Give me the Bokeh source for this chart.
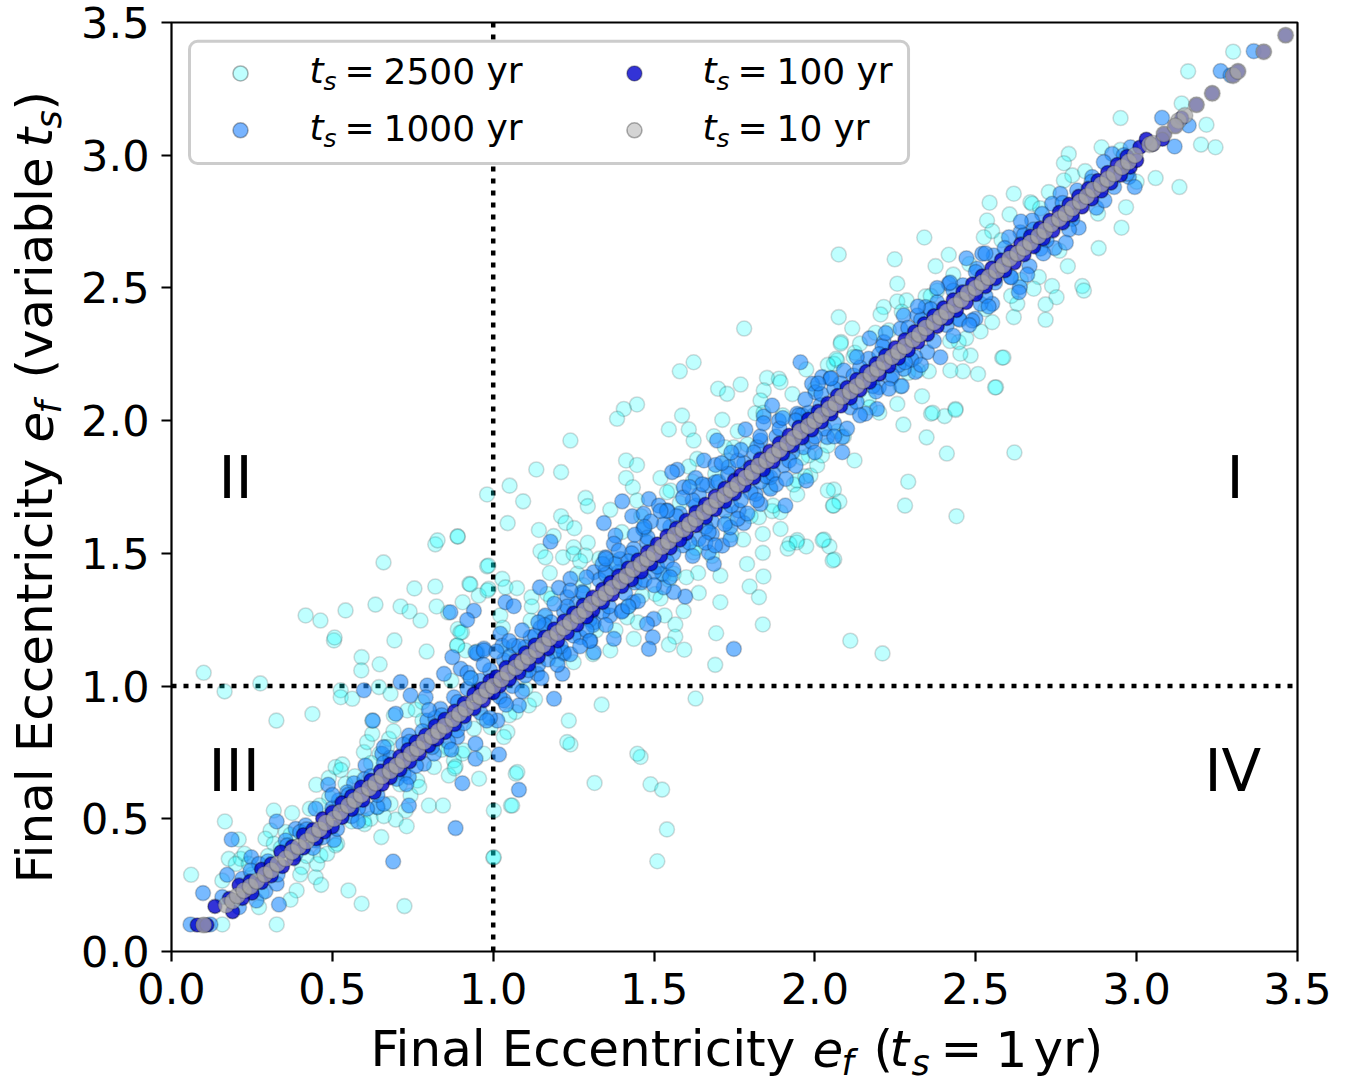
from bokeh.plotting import figure
from bokeh.layouts import row, column
from bokeh.models import Range1d, FixedTicker, Span, BoxAnnotation, Label, NumeralTickFormatter
from bokeh.embed import file_html
from bokeh.resources import INLINE
import math

ts_2500 = [
(2.074,2.626),(2.248,2.608),(2.34,2.69),(2.256,2.516),(2.375,2.582),(2.416,2.625),(2.543,2.821),(2.618,2.855),(2.605,2.777),(2.535,2.754),(2.551,2.714),(2.525,2.691),
(2.789,3.005),(2.774,2.97),(2.80,2.924),(2.774,2.905),(2.891,3.03),(2.727,2.861),(2.67,2.823),(2.675,2.817),(3.059,2.914),(3.133,2.88),(2.967,2.804),(2.953,2.727),(2.882,2.65),
(2.786,2.582),(2.696,2.541),(2.737,2.507),(2.831,2.507),(2.836,2.49),(2.68,2.497),(2.751,2.465),(2.717,2.438),(2.629,2.44),(2.618,2.39),(2.717,2.38),(2.551,2.371),(2.515,2.336),
(2.214,2.428),(2.204,2.4),(2.256,2.449),(2.285,2.453),(2.074,2.39),(2.116,2.348),(2.081,2.296),(2.124,2.256),(2.188,2.331),(2.344,2.468),(2.38,2.49),
(2.582,2.237),(2.484,2.245),(2.452,2.252),(2.447,2.296),(2.46,2.186),(2.507,2.176),(2.421,2.189),(2.354,2.186),(2.563,2.126),(2.333,2.092),(2.256,2.063),(2.437,2.044),(2.403,2.017),(2.361,2.026),
(2.266,2.13),(2.167,2.082),(2.069,2.227),(2.059,2.214),(3.30,3.39),(3.16,3.316),(3.14,3.195),(3.217,3.115),(3.20,3.04),(3.245,3.03),(2.95,3.14),
(1.623,2.22),(1.58,2.186),(1.447,2.061),(1.406,2.044),(1.385,2.007),(1.699,2.12),(1.727,2.101),(1.769,2.136),(1.587,2.019),(1.608,1.967),(1.623,1.925),(1.546,1.967),(1.712,2.003),
(1.24,1.925),(1.134,1.816),(1.211,1.806),(1.413,1.85),(1.447,1.833),(1.413,1.784),(1.434,1.749),(1.52,1.784),(1.551,1.737),(1.051,1.755),(1.093,1.696),(0.981,1.722),
(1.287,1.709),(1.294,1.678),(1.364,1.664),(1.447,1.699),(1.045,1.614),(1.211,1.64),(1.225,1.615),(1.252,1.595),(1.142,1.588),(1.188,1.565),(0.89,1.563),
(1.294,1.54),(1.147,1.508),(1.162,1.485),(1.217,1.485),(1.25,1.523),(1.25,1.498),(1.287,1.492),(1.176,1.426),(0.981,1.451),(0.926,1.385),(0.955,1.341),(0.905,1.316),(0.89,1.215),(0.903,1.203),
(1.028,1.404),(1.038,1.372),(1.074,1.369),(0.986,1.366),(1.022,1.266),(0.888,1.153),(1.119,1.335),(1.116,1.247),(1.168,1.347),(1.261,1.423),(2.08,2.29),(2.066,2.233),(1.973,2.193),
(1.851,2.161),(1.888,2.158),(1.893,2.145),(1.841,2.114),(1.831,2.076),(1.815,2.028),(1.686,1.941),(1.748,1.9),(1.727,1.85),(1.634,1.856),(1.608,1.827),(2.059,1.74),(2.056,1.68),(2.076,1.695),
(1.945,1.774),(1.934,1.759),(1.986,1.793),(1.945,1.722),(2.007,1.831),(1.981,1.869),(2.022,1.869),(2.04,1.906),(1.867,1.659),(1.893,1.655),(1.826,1.636),(1.893,1.592),(1.838,1.573),
(1.921,1.536),(1.945,1.55),(1.973,1.526),(2.028,1.552),(2.045,1.526),(2.06,1.477),(1.777,1.552),(1.838,1.502),(1.789,1.46),(1.637,1.426),(1.706,1.416),(1.797,1.375),(1.826,1.335),
(1.706,1.316),(1.639,1.351),(1.592,1.282),(1.533,1.266),(1.566,1.232),(1.838,1.232),(1.693,1.199),(1.566,1.186),(1.546,1.156),(1.594,1.137),(2.11,1.171),(1.504,1.347),(1.463,1.341),
(1.437,1.178),(1.416,1.259),(1.364,1.134),(1.561,1.423),(1.546,1.4),(1.623,1.504),(2.21,1.123),(1.629,0.953),(1.69,1.08),(1.458,0.733),(1.448,0.745),(1.489,0.63),(1.525,0.61),(1.54,0.46),(1.51,0.34),
(1.315,0.635),(1.24,0.78),(1.337,0.93),(1.07,0.67),(1.055,0.55),(1.0,0.354),(2.62,1.88),(2.44,1.64),(2.28,1.68),(2.29,1.77),(2.41,1.876),(2.347,1.937),(2.366,2.03),(2.437,2.04),(2.275,1.985),(2.56,2.125),(2.586,2.238),
(1.78,2.347),(2.123,1.85),(2.058,1.68),(2.04,1.737),(2.024,1.549),(2.055,1.473),(1.943,1.541),(1.915,1.518),(1.84,1.413),
(0.061,0.289),(0.166,0.49),(0.209,0.422),(0.158,0.102),(0.327,0.102),(0.389,0.23),(0.37,0.195),(0.272,0.167),(0.448,0.28),(0.465,0.251),(0.55,0.23),(0.591,0.18),(0.724,0.171),
(0.158,0.267),(0.178,0.349),(0.215,0.349),(0.2,0.33),(0.227,0.368),(0.453,0.33),(0.463,0.362),(0.484,0.368),(0.406,0.318),(0.318,0.531),(0.375,0.522),(0.43,0.538),(0.308,0.456),(0.292,0.425),(0.318,0.406),(0.355,0.45),
(0.515,0.406),(0.45,0.628),(0.489,0.654),(0.51,0.695),(0.531,0.705),(0.541,0.632),(0.526,0.684),(0.598,0.751),(0.608,0.789),(0.624,0.82),(0.676,0.801),(0.67,0.77),(0.647,0.745),
(0.733,0.908),(0.759,0.911),(0.691,0.889),(0.624,0.87),(0.681,0.556),(0.743,0.588),(0.728,0.531),(0.697,0.497),(0.731,0.472),(0.652,0.431),(0.8,0.55),(0.844,0.55),
(0.862,0.663),(0.904,0.745),(0.878,0.72),(0.883,0.697),(0.956,0.651),(0.971,0.745),(1.002,0.531),(1.002,0.355),(1.059,0.55),(1.075,0.676),(1.07,0.902),(1.111,0.927),(1.044,0.827),(1.033,0.808),(1.235,0.87),(1.23,0.789),
(0.992,0.845),(0.94,0.839),(0.909,0.757),(0.862,0.764),(0.816,0.695),(0.764,0.644),(0.598,0.494),(0.619,0.5),(0.562,0.544),(0.64,0.544),
(0.505,1.172),(0.693,1.172),(0.793,1.13),(0.888,1.153),(0.914,1.134),(0.645,0.996),(0.681,0.971),(0.526,0.984),(0.526,0.958),(0.562,0.952),(0.591,1.109),(0.59,1.059),(0.647,1.082),
(0.10,1.05),(0.165,0.98),(0.276,1.01),(0.326,0.87),(0.438,0.895),
(0.417,1.266),(0.463,1.247),(0.507,1.183),(0.541,1.285),(0.634,1.307),(0.712,1.3),(0.74,1.281),(0.659,1.466),(0.755,1.368),(0.82,1.534),(0.827,1.549),(0.82,1.375),(0.889,1.564),(0.929,1.383),(0.774,1.247),(0.86,1.277),(0.898,1.202),(0.824,1.3),(0.985,1.454),(0.982,1.36),
(0.25,0.29),(0.28,0.22),(0.34,0.39),(0.42,0.36),(0.49,0.58),(0.56,0.49),(0.62,0.71),(0.71,0.63),(0.78,0.87),(0.84,0.76),(0.93,1.03),(0.97,0.88),(1.04,1.14),(1.10,0.99),(1.16,1.26),(1.20,1.10),(1.28,1.38),(1.32,1.21),(1.37,1.47),(1.42,1.30),(1.47,1.59),(1.53,1.42),(1.58,1.69),(1.63,1.52),(1.69,1.80),(1.73,1.62),(1.79,1.91),(1.86,1.75),(1.90,2.02),(1.96,1.86),(2.00,2.12),(2.07,1.96),(2.12,2.24),(2.17,2.05),(2.23,2.34),(2.29,2.18),(2.36,2.47),(2.42,2.30),(2.48,2.59),(2.53,2.42),(2.58,2.68),(2.64,2.53),(2.70,2.80),(2.76,2.64),(2.84,2.94),(2.88,2.78),(2.95,3.02),(3.00,2.90),
(1.12,1.30),(1.18,1.33),(1.27,1.47),(1.33,1.48),(1.40,1.58),(1.46,1.64),(1.54,1.73),(1.62,1.77),(1.72,1.90),(1.76,1.96),(1.84,2.03),(1.93,2.10),(2.04,2.21),(2.14,2.29),(2.27,2.41),(2.43,2.55),(1.25,1.09),(1.31,1.12),(1.38,1.21),(1.45,1.24),(1.52,1.33),(1.60,1.41),(1.68,1.49),(1.74,1.57),(1.80,1.64),(1.87,1.68),(1.97,1.79),(2.09,1.94),(2.20,2.03),(2.32,2.19),(2.47,2.31),(2.61,2.47),(0.95,1.13),(1.03,1.22),(0.87,1.02),(0.78,0.94),(0.69,0.83),(1.05,0.89),(1.13,0.95),(0.88,0.69),(0.77,0.62),(0.66,0.51),(0.57,0.66),(0.46,0.55),(0.37,0.44),(0.30,0.36),(0.24,0.33),(0.40,0.29),(0.51,0.40),(0.60,0.48),
]

ts_1000 = [
(0.059,0.102),(0.121,0.102),(0.098,0.22),(0.187,0.422),(0.173,0.289),(0.158,0.205),(0.21,0.167),(0.264,0.192),(0.292,0.227),(0.327,0.255),(0.334,0.177),(0.248,0.355),(0.272,0.33),(0.22,0.274),(0.246,0.305),
(0.689,0.339),(0.883,0.465),(0.904,0.634),(1.08,0.609),(1.018,0.742),(0.738,0.55),(0.64,0.544),(0.608,0.538),(0.66,0.556),(0.327,0.49),(0.355,0.418),(0.386,0.462),(0.417,0.475),(0.448,0.538),(0.386,0.368),
(0.505,0.42),(0.515,0.462),(0.448,0.418),(0.487,0.628),(0.567,0.634),(0.603,0.701),(0.546,0.6),(0.655,0.745),(0.738,0.814),(0.66,0.67),(0.722,0.67),(0.738,0.657),
(0.626,0.87),(0.697,0.896),(0.795,0.87),(0.743,0.965),(0.712,1.015),(0.795,1.002),(0.847,1.046),(0.899,1.065),(0.873,1.109),(0.598,0.984),(0.836,0.914),(0.878,0.958),(0.79,0.958),(0.888,0.808),(0.945,0.783),(0.945,0.726),(1.013,0.87),(1.189,0.952),
(1.08,0.927),(1.033,0.946),(0.95,1.122),(0.971,1.141),(1.033,1.097),(1.064,1.059),(1.215,1.046),(1.137,1.046),(1.22,1.122),(0.888,0.833),(0.785,0.707),(0.816,0.745),
(1.955,2.22),(2.022,2.164),(2.048,2.158),(1.991,2.139),(2.002,2.107),(2.09,2.189),(1.784,1.967),(1.696,1.925),(1.841,2.016),(1.867,2.057),(1.888,2.0),(1.831,1.925),(1.945,2.026),
(1.572,1.815),(1.556,1.806),(1.655,1.85),(1.691,1.833),(1.732,1.825),(1.629,1.784),(1.592,1.749),(1.665,1.756),(1.691,1.768),(1.401,1.696),(1.484,1.705),(1.344,1.614),
(1.432,1.64),(1.468,1.649),(1.466,1.592),(1.515,1.68),(1.541,1.661),(1.38,1.567),(1.375,1.536),(1.437,1.517),(1.478,1.542),(1.349,1.485),(1.395,1.479),(1.313,1.429),(1.349,1.435),(1.178,1.544),
(1.145,1.372),(1.204,1.37),(1.24,1.404),(1.23,1.335),(1.276,1.354),(1.038,1.316),(1.064,1.301),(0.94,1.284),(0.919,1.249),(0.867,1.278),(1.162,1.266),(1.147,1.22),(1.022,1.197),(1.028,1.152),(1.064,1.152),(0.945,1.127),(0.971,1.134),
(1.116,1.184),(1.1,1.146),(1.157,1.159),(1.597,1.337),(1.561,1.354),(1.53,1.372),(1.525,1.423),(1.435,1.316),(1.401,1.284),(1.499,1.253),(1.478,1.234),(1.496,1.184),(1.484,1.14),(1.748,1.14),(1.364,1.266),(1.375,1.178),(1.313,1.24),(1.271,1.184),(1.302,1.171),(1.219,1.127),(1.313,1.127),
(1.686,1.46),(1.67,1.504),(1.712,1.529),(1.737,1.552),(1.779,1.614),(1.639,1.554),(1.68,1.573),(1.737,1.598),(1.763,1.661),(1.831,1.686),(1.862,1.743),(1.815,1.724),(1.908,1.68),(1.973,1.774),(2.085,1.881),(2.085,1.938),(1.903,1.831),(1.862,1.787),(1.965,1.9),(2.038,1.938),
(3.364,3.392),(3.261,3.317),(3.292,3.301),(3.079,3.141),(3.162,3.112),(3.118,3.033),(2.981,3.03),(2.924,3.005),(2.898,2.974),(2.976,2.918),(2.994,2.88),(2.875,2.802),(2.82,2.727),
(2.862,2.918),(2.815,2.867),(2.763,2.855),(2.737,2.817),(2.706,2.779),(2.675,2.754),(2.639,2.71),(2.603,2.691),(2.745,2.65),(2.701,2.648),(2.667,2.582),(2.608,2.541),(2.637,2.503),(2.634,2.484),(2.551,2.44),(2.515,2.44),
(2.556,2.622),(2.52,2.629),(2.471,2.612),(2.504,2.572),(2.416,2.516),(2.38,2.446),(2.344,2.428),(2.276,2.396),(2.318,2.396),(2.499,2.384),(2.489,2.377),(2.447,2.384),(2.266,2.346),(2.214,2.296),(2.167,2.233),(2.09,2.089),(2.048,2.038),(2.017,2.058),(1.996,2.02),(1.96,2.02),
(2.39,2.239),(2.349,2.258),(2.312,2.239),(2.312,2.183),(2.276,2.195),(2.235,2.158),(2.199,2.126),(2.193,2.044),(2.157,2.026),
(0.72,0.78),(0.76,0.70),(0.82,0.88),(0.86,0.79),(0.92,0.99),(0.96,0.90),(1.06,1.00),(1.10,1.04),(1.14,1.08),(1.18,1.24),(1.21,1.15),(1.26,1.31),(1.30,1.25),(1.34,1.28),(1.39,1.43),(1.44,1.39),(1.50,1.43),(1.55,1.60),(1.59,1.53),(1.63,1.68),(1.68,1.62),(1.72,1.66),(1.78,1.84),(1.83,1.77),(1.88,1.94),(1.93,1.88),(1.98,2.03),(2.03,1.97),(2.12,2.17),(2.18,2.13),(2.26,2.21),(2.33,2.38),(2.41,2.36),(2.46,2.51),(2.56,2.52),(2.65,2.70),(2.72,2.68),(2.80,2.76),(2.93,2.88),(0.40,0.45),(0.44,0.39),(0.52,0.57),(0.56,0.51),(0.60,0.65),(0.64,0.59),(0.68,0.73),
(0.30,0.34),(0.33,0.29),(0.36,0.40),(0.42,0.46),(0.47,0.43),(0.50,0.54),(0.55,0.59),(0.58,0.54),(0.62,0.66),(0.66,0.71),(0.70,0.65),(0.74,0.79),(0.78,0.83),(0.81,0.77),(0.84,0.89),(0.89,0.94),(0.91,0.86),(0.96,1.02),(0.99,1.06),(1.02,0.96),(1.05,1.11),(1.08,1.15),(1.11,1.06),(1.13,1.19),(1.16,1.23),(1.19,1.13),(1.22,1.28),(1.25,1.19),(1.28,1.35),(1.31,1.23),(1.33,1.40),(1.36,1.30),(1.38,1.46),(1.41,1.35),(1.43,1.50),(1.46,1.39),(1.48,1.56),(1.51,1.45),(1.53,1.61),(1.56,1.50),(1.58,1.65),(1.61,1.54),(1.64,1.72),(1.66,1.60),(1.70,1.77),(1.74,1.68),(1.76,1.85),(1.80,1.73),(1.82,1.90),(1.85,1.79),(1.89,1.97),(1.92,1.85),(1.95,2.02),(1.99,1.92),(2.02,2.10),(2.06,1.99),(2.08,2.14),(2.11,2.05),(2.14,2.20),(2.19,2.11),(2.21,2.28),(2.24,2.17),(2.29,2.35),(2.30,2.23),(2.36,2.42),(2.37,2.30),(2.43,2.49),(2.45,2.38),(2.50,2.56),(2.53,2.47),(2.59,2.65),(2.61,2.54),(2.68,2.72),(2.71,2.63),(2.77,2.82),(2.79,2.72),(2.86,2.90),(2.90,2.83),(2.96,3.00),(2.97,2.93),
(1.17,1.10),(1.23,1.30),(1.29,1.21),(1.35,1.42),(1.42,1.47),(1.47,1.40),(1.54,1.47),(1.57,1.64),(1.62,1.70),(1.67,1.58),(1.73,1.80),(1.77,1.70),(1.81,1.88),(1.87,1.80),(1.94,2.00),(2.00,1.94),(2.06,2.12),(2.13,2.07),(2.20,2.25),(2.28,2.22),
(0.92,1.05),(0.97,1.08),(1.01,1.13),(1.05,1.17),(1.09,1.21),(1.14,1.24),(1.19,1.31),(1.24,1.36),(1.29,1.41),(1.34,1.46),(1.39,1.51),(1.44,1.57),(1.49,1.62),(1.54,1.66),(1.59,1.71),(1.65,1.76),(1.71,1.84),(1.77,1.89),(1.83,1.94),(1.90,2.01),(1.97,2.08),(2.05,2.16),(2.13,2.24),(2.22,2.33),(2.32,2.43),(2.42,2.52),(2.53,2.63),(2.64,2.75),
(0.99,0.88),(1.04,0.93),(1.09,0.98),(1.15,1.03),(1.20,1.08),(1.24,1.12),(1.30,1.17),(1.35,1.23),(1.40,1.28),(1.45,1.32),(1.50,1.38),(1.56,1.44),(1.62,1.49),(1.66,1.54),(1.72,1.61),(1.76,1.63),(1.82,1.70),(1.88,1.76),(1.94,1.83),(2.00,1.88),(2.06,1.94),(2.14,2.02),(2.23,2.12),(2.33,2.21),(2.43,2.32),(2.54,2.43),(2.66,2.55),(2.78,2.67),
(0.50,0.59),(0.58,0.49),(0.66,0.77),(0.73,0.63),(0.80,0.91),(0.87,0.76),(0.93,1.03),(0.98,0.87),(1.27,1.15),(1.35,1.48),(1.42,1.30),(1.47,1.60),(1.52,1.66),(1.55,1.41),(1.61,1.75),(1.69,1.53),(1.74,1.88),(1.79,1.65),(1.84,1.99),(1.91,1.78),(2.01,2.14),(2.10,1.97),(2.17,2.31),(2.27,2.13),(2.38,2.50),(2.48,2.36),
]

ts_100 = [
(0.08,0.10),(0.10,0.10),(0.11,0.10),(0.135,0.17),(0.19,0.15),(0.21,0.25),(0.25,0.22),(0.28,0.31),(0.31,0.285),(0.34,0.375),(0.38,0.35),(0.41,0.44),(0.45,0.425),(0.47,0.50),(0.50,0.47),(0.53,0.56),(0.56,0.535),(0.59,0.62),(0.63,0.60),(0.65,0.68),(0.68,0.655),(0.71,0.735),(0.74,0.715),(0.76,0.79),(0.80,0.775),(0.82,0.85),(0.85,0.825),(0.88,0.905),(0.91,0.885),(0.94,0.97),(0.97,0.945),(0.99,1.02),(1.02,1.00),(1.04,1.07),(1.08,1.05),(1.10,1.125),(1.14,1.11),(1.16,1.185),(1.20,1.17),(1.22,1.245),(1.26,1.23),(1.28,1.305),(1.31,1.285),(1.34,1.365),(1.37,1.345),(1.39,1.415),(1.43,1.40),(1.45,1.475),(1.49,1.46),(1.51,1.535),(1.55,1.52),(1.57,1.595),(1.60,1.575),(1.63,1.655),(1.66,1.635),(1.69,1.715),(1.72,1.695),(1.75,1.775),(1.78,1.755),(1.80,1.825),(1.84,1.815),(1.86,1.885),(1.90,1.875),(1.92,1.945),(1.96,1.935),(1.98,2.005),(2.02,1.995),(2.04,2.065),(2.08,2.055),(2.10,2.125),(2.14,2.115),(2.16,2.185),(2.20,2.175),(2.22,2.245),(2.26,2.235),(2.28,2.305),(2.32,2.295),(2.34,2.365),(2.38,2.355),(2.40,2.425),(2.44,2.415),(2.46,2.485),(2.50,2.475),(2.52,2.545),(2.56,2.535),(2.58,2.605),(2.62,2.595),(2.64,2.665),(2.68,2.655),(2.70,2.725),(2.74,2.715),(2.76,2.785),(2.80,2.775),(2.82,2.845),(2.86,2.835),(2.88,2.905),(2.92,2.895),(2.94,2.965),(2.98,2.955),(3.01,3.03),(3.05,3.04),(3.085,3.08),(3.12,3.11),(3.14,3.14),(3.186,3.19),(3.235,3.233),(3.30,3.30),(3.315,3.316),(3.395,3.39),(3.463,3.452),
(0.18,0.20),(0.22,0.20),(0.245,0.265),(0.28,0.26),(0.31,0.33),(0.345,0.32),(0.375,0.395),(0.41,0.39),(0.44,0.46),(0.475,0.45),(0.50,0.525),(0.53,0.505),(0.56,0.585),(0.595,0.57),(0.62,0.645),(0.655,0.63),(0.68,0.705),(0.71,0.685),(0.735,0.76),(0.77,0.745),(0.79,0.815),(0.825,0.80),(0.85,0.875),(0.88,0.855),(0.91,0.935),(0.94,0.915),(0.965,0.99),(1.00,0.975),(1.01,1.035),(1.05,1.025),(1.07,1.095),(1.11,1.08),(1.13,1.155),(1.17,1.14),(1.19,1.215),(1.23,1.20),(1.25,1.275),(1.29,1.26),(1.31,1.335),(1.34,1.315),(1.365,1.39),(1.40,1.375),(1.42,1.445),(1.46,1.43),(1.48,1.505),(1.52,1.49),(1.54,1.565),(1.58,1.55),(1.60,1.625),(1.63,1.605),(1.66,1.685),(1.69,1.665),(1.72,1.745),(1.75,1.725),(1.77,1.795),(1.81,1.785),(1.83,1.855),(1.87,1.845),(1.89,1.915),(1.93,1.905),(1.95,1.975),(1.99,1.965),(2.01,2.035),(2.05,2.025),(2.07,2.095),(2.11,2.085),(2.13,2.155),(2.17,2.145),(2.19,2.215),(2.23,2.205),(2.25,2.275),(2.29,2.265),(2.31,2.335),(2.35,2.325),(2.37,2.395),(2.41,2.385),(2.43,2.455),(2.47,2.445),(2.49,2.515),(2.53,2.505),(2.55,2.575),(2.59,2.565),(2.61,2.635),(2.65,2.625),(2.67,2.695),(2.71,2.685),(2.73,2.755),(2.77,2.745),(2.79,2.815),(2.83,2.805),(2.85,2.875),(2.89,2.865),(2.91,2.935),(2.95,2.925),(2.97,2.995),(3.00,2.98),(3.03,3.06),(3.08,3.06),
]

ts_10 = [
(0.10,0.10),(0.17,0.175),(0.19,0.19),(0.205,0.21),(0.225,0.23),(0.245,0.245),(0.265,0.265),(0.29,0.29),(0.31,0.305),(0.33,0.33),(0.355,0.35),(0.375,0.375),(0.395,0.395),(0.42,0.415),(0.44,0.44),(0.46,0.46),(0.48,0.485),(0.505,0.50),(0.525,0.525),(0.55,0.55),(0.57,0.57),(0.59,0.59),(0.615,0.615),(0.635,0.635),(0.655,0.66),(0.68,0.68),(0.70,0.70),(0.72,0.72),(0.745,0.745),(0.765,0.765),(0.785,0.79),(0.81,0.81),(0.83,0.83),(0.85,0.85),(0.875,0.875),(0.895,0.895),(0.915,0.915),(0.94,0.94),(0.96,0.96),(0.98,0.985),(1.00,1.00),(1.025,1.025),(1.045,1.05),(1.07,1.07),(1.09,1.09),(1.11,1.11),(1.135,1.135),(1.155,1.155),(1.175,1.18),(1.20,1.20),(1.22,1.22),(1.24,1.24),(1.265,1.265),(1.285,1.285),(1.305,1.31),(1.33,1.33),(1.35,1.35),(1.37,1.37),(1.395,1.395),(1.415,1.415),(1.435,1.44),(1.46,1.46),(1.48,1.48),(1.50,1.50),(1.525,1.525),(1.545,1.545),(1.565,1.57),(1.59,1.59),(1.61,1.61),(1.63,1.63),(1.655,1.655),(1.675,1.675),(1.695,1.70),(1.72,1.72),(1.74,1.74),(1.76,1.76),(1.785,1.785),(1.805,1.805),(1.825,1.83),(1.85,1.85),(1.87,1.87),(1.89,1.89),(1.915,1.915),(1.935,1.935),(1.955,1.96),(1.98,1.98),(2.00,2.00),(2.02,2.02),(2.045,2.045),(2.065,2.065),(2.085,2.09),(2.11,2.11),(2.13,2.13),(2.15,2.15),(2.175,2.175),(2.195,2.195),(2.215,2.22),(2.24,2.24),(2.26,2.26),(2.28,2.28),(2.305,2.305),(2.325,2.325),(2.345,2.35),(2.37,2.37),(2.39,2.39),(2.41,2.41),(2.435,2.435),(2.455,2.455),(2.475,2.48),(2.50,2.50),(2.52,2.52),(2.54,2.54),(2.565,2.565),(2.585,2.585),(2.605,2.61),(2.63,2.63),(2.65,2.65),(2.67,2.67),(2.695,2.695),(2.715,2.715),(2.735,2.74),(2.76,2.76),(2.78,2.78),(2.80,2.80),(2.825,2.825),(2.845,2.845),(2.865,2.87),(2.89,2.89),(2.91,2.91),(2.93,2.93),(2.955,2.955),(2.975,2.975),(2.995,3.00),(3.04,3.04),(3.05,3.045),(3.13,3.13),(3.15,3.15),(3.30,3.30),(3.315,3.316),(3.395,3.39),(3.463,3.452),(3.235,3.233),(3.186,3.19),(3.085,3.08),(3.12,3.11),
]

x_ticks = [0.0, 0.5, 1.0, 1.5, 2.0, 2.5, 3.0, 3.5]
y_ticks = [0.0, 0.5, 1.0, 1.5, 2.0, 2.5, 3.0, 3.5]
legend_rows = ["2500", "1000", "100", "10"]
FONT = "DejaVu Sans"

YW = 70      # width of the strip holding the y title
MAINH = 1018 # height of the main figure
XH = 58      # height of the strip holding the x title
TOTAL = MAINH + XH

p = figure(width=1343 - YW, height=MAINH, x_range=Range1d(0, 3.5), y_range=Range1d(0, 3.5),
           toolbar_location=None, output_backend="svg",
           min_border_left=171 - YW, min_border_right=46, min_border_top=22, min_border_bottom=MAINH - 951)
p.grid.visible = False
p.outline_line_color = "black"
p.outline_line_width = 2.2
for ax, ticks, standoff in ((p.xaxis[0], x_ticks, 11), (p.yaxis[0], y_ticks, 12)):
    ax.ticker = FixedTicker(ticks=ticks)
    ax.formatter = NumeralTickFormatter(format="0.0")
    ax.major_label_text_font = FONT
    ax.major_label_text_font_size = "43px"
    ax.major_label_text_color = "black"
    ax.major_tick_line_width = 2.2
    ax.major_tick_line_color = "black"
    ax.major_tick_in = 0
    ax.major_tick_out = 10
    ax.minor_tick_line_color = None
    ax.axis_line_color = None
    ax.major_label_standoff = standoff

for sp in (Span(location=1.0, dimension="width"), Span(location=1.0, dimension="height")):
    sp.line_color = "black"; sp.line_width = 4.5; sp.line_dash = "5 7"; sp.level = "underlay"
    p.add_layout(sp)

def draw(pts, color, fa, la, lw=1.6, sz=15):
    p.scatter([a for a, _ in pts], [b for _, b in pts], size=sz, fill_color=color, fill_alpha=fa,
              line_color="black", line_alpha=la, line_width=lw)

draw(ts_2500, "#00FFFF", 0.25, 0.15)
draw(ts_1000, "#1E8CFF", 0.6, 0.2)
draw(ts_100, "#0000CD", 0.8, 0.35, sz=14)
draw(ts_10, "#A9A9A9", 0.75, 0.15, sz=16)

def strip(w, h):
    f = figure(width=w, height=h, x_range=Range1d(0, 1), y_range=Range1d(0, 1),
               toolbar_location=None, output_backend="svg", x_axis_location=None, y_axis_location=None,
               min_border_left=0, min_border_right=0, min_border_top=0, min_border_bottom=0)
    f.grid.visible = False
    f.outline_line_color = None
    return f

def txt(f, ox, oy, px, py, s, size, style="normal", angle=0.0):
    # Label's alphabetic anchor sits about 0.36 em above the real baseline
    if angle:
        px = px - 0.36 * size
    else:
        py = py - 0.36 * size
    f.add_layout(Label(x=px - ox, y=oy - py, x_units="screen", y_units="screen", text=s,
                       text_font=FONT, text_font_size=f"{size}px", text_font_style=style,
                       text_color="black", text_baseline="alphabetic", text_align="left", angle=angle))

for s, cx, base in (("II", 218, 498), ("I", 1226, 498), ("III", 208, 791), ("IV", 1204, 791)):
    txt(p, 171, 951, cx, base, s, 58)

p.add_layout(BoxAnnotation(left=0.056, right=2.291, bottom=2.969, top=3.429,
                           fill_color="white", fill_alpha=1.0, line_color="#CCCCCC", line_alpha=1.0, line_width=3,
                           border_radius=8, level="annotation"))

sw = [(0.2145, 3.308, "#BFFFFF"), (0.2145, 3.094, "#78B4FF"), (1.439, 3.308, "#3333D7"), (1.439, 3.094, "#D4D4D4")]
for sx, sy, c in sw:
    p.scatter([sx], [sy], size=15, fill_color=c, line_color="black", line_alpha=0.3, line_width=1.6, level="overlay")

for lab, lx, by in zip(legend_rows, (309, 309, 702, 702), (83, 140, 83, 140)):
    txt(p, 171, 951, lx, by, "t", 36, "italic")
    txt(p, 171, 951, lx + 14, by + 7, "s", 25, "italic")
    txt(p, 171, 951, lx + 35, by, "=", 36)
    txt(p, 171, 951, lx + 74, by, lab, 36)
    txt(p, 171, 951, lx + 85 + 23 * len(lab), by, "yr", 36)

# x title strip: its frame lines up with the main frame's left edge, so offsets start at 171
xf = strip(1343 - YW, XH)
by = 1066
for px, py, s, size, style in ((370, by, "Final Eccentricity", 50, "normal"), (812, by, "e", 50, "italic"),
                               (841, by + 9, "f", 35, "italic"), (873, by, "(", 50, "normal"),
                               (889, by, "t", 50, "italic"), (911, by + 9, "s", 35, "italic"),
                               (940, by, "=", 50, "normal"), (995, by, "1", 50, "normal"),
                               (1033, by, "yr)", 50, "normal")):
    txt(xf, 171, TOTAL, px, py, s, size, style)

# y title strip
yf = strip(YW, TOTAL)
bx = 52
ang = math.pi / 2
for px, py, s, size, style in ((bx, 883, "Final Eccentricity", 50, "normal"), (bx, 442, "e", 50, "italic"),
                               (bx + 9, 413, "f", 35, "italic"), (bx, 378, "(variable", 50, "normal"),
                               (bx, 147, "t", 50, "italic"), (bx + 9, 128, "s", 35, "italic"),
                               (bx, 110, ")", 50, "normal")):
    txt(yf, 0, TOTAL, px, py, s, size, style, angle=ang)

page = row(yf, column(p, xf, spacing=0), spacing=0)
open("out.html", "w").write(file_html(page, INLINE))
